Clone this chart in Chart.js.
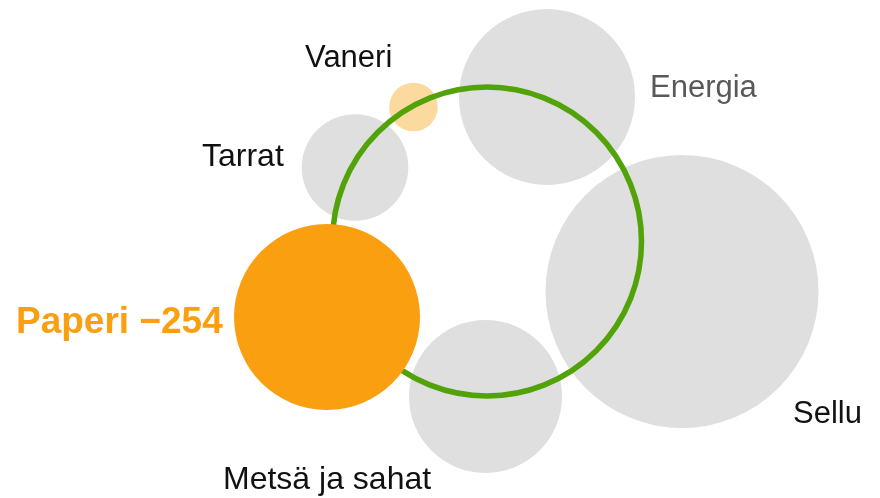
<!DOCTYPE html>
<html>
<head>
<meta charset="utf-8">
<script src="https://cdn.jsdelivr.net/npm/chart.js@4"></script>
<style>
  html, body { margin: 0; padding: 0; background: #ffffff; }
  #wrap { width: 880px; height: 498px; position: relative; }
</style>
</head>
<body>
<div id="wrap"><canvas id="myChart"></canvas></div>
<script>
// bubbles (x, y in layout units, r = bubble radius)
const categories = ['Paperi', 'Vaneri', 'Tarrat', 'Energia', 'Sellu', 'Metsä ja sahat'];
const xValues = [327, 413.5, 355, 547, 682, 485.5];
const yValues = [317, 107, 167.5, 97, 291.5, 396.5];
const sizes = [93, 24.3, 53.3, 88, 136.5, 76.5];
const labelTexts = ['Paperi \u2212254', 'Vaneri', 'Tarrat', 'Energia', 'Sellu', 'Metsä ja sahat'];

// the green ring
const ringX = [487];
const ringY = [241.5];
const ringSize = [154.5];

// where each label starts (left edge / baseline)
const labelX = [16, 305, 202, 650, 793, 223];
const labelY = [333, 67, 166, 97, 423, 489];
const labelFonts = [
    'bold 37px "Liberation Sans", Arial, sans-serif',
    '31px "Liberation Sans", Arial, sans-serif',
    '32px "Liberation Sans", Arial, sans-serif',
    '31px "Liberation Sans", Arial, sans-serif',
    '31px "Liberation Sans", Arial, sans-serif',
    '32px "Liberation Sans", Arial, sans-serif'
];
const labelColors = ['#F99F10', '#111111', '#111111', '#595959', '#111111', '#111111'];

const GRAY = '#DFDFDF';

function pointsFor(indexes) {
    return indexes.map(function(i) {
        return { x: xValues[i], y: yValues[i], r: sizes[i] };
    });
}

const labelPlugin = {
    id: 'bubbleLabels',
    afterDatasetsDraw(chart) {
        const c = chart.ctx;
        const xs = chart.scales.x;
        const ys = chart.scales.y;
        c.save();
        c.textAlign = 'left';
        c.textBaseline = 'alphabetic';
        categories.forEach(function(cat, i) {
            c.font = labelFonts[i];
            c.fillStyle = labelColors[i];
            c.fillText(labelTexts[i], xs.getPixelForValue(labelX[i]), ys.getPixelForValue(labelY[i]));
        });
        c.restore();
    }
};

const ctx = document.getElementById('myChart');

new Chart(ctx, {
    type: 'bubble',
    data: {
        datasets: [
            {
                label: 'Paperi',
                data: pointsFor([0]),
                backgroundColor: '#F99F10',
                borderWidth: 0,
                order: 0,
                clip: false
            },
            {
                label: 'rengas',
                data: ringX.map(function(x, i) { return { x: x, y: ringY[i], r: ringSize[i] }; }),
                backgroundColor: 'rgba(0,0,0,0)',
                borderColor: '#52A20A',
                borderWidth: 5.5,
                order: 1,
                clip: false
            },
            {
                label: 'Vaneri',
                data: pointsFor([1]),
                backgroundColor: '#FCD99E',
                borderWidth: 0,
                order: 2,
                clip: false
            },
            {
                label: 'muut',
                data: pointsFor([2, 3, 4, 5]),
                backgroundColor: GRAY,
                borderWidth: 0,
                order: 3,
                clip: false
            }
        ]
    },
    options: {
        responsive: true,
        maintainAspectRatio: false,
        animation: false,
        events: [],
        layout: { padding: 0, autoPadding: false },
        scales: {
            x: { type: 'linear', min: 0, max: 880, display: false },
            y: { type: 'linear', min: 0, max: 498, reverse: true, display: false }
        },
        plugins: {
            legend: { display: false },
            tooltip: { enabled: false }
        }
    },
    plugins: [labelPlugin]
});
</script>
</body>
</html>
